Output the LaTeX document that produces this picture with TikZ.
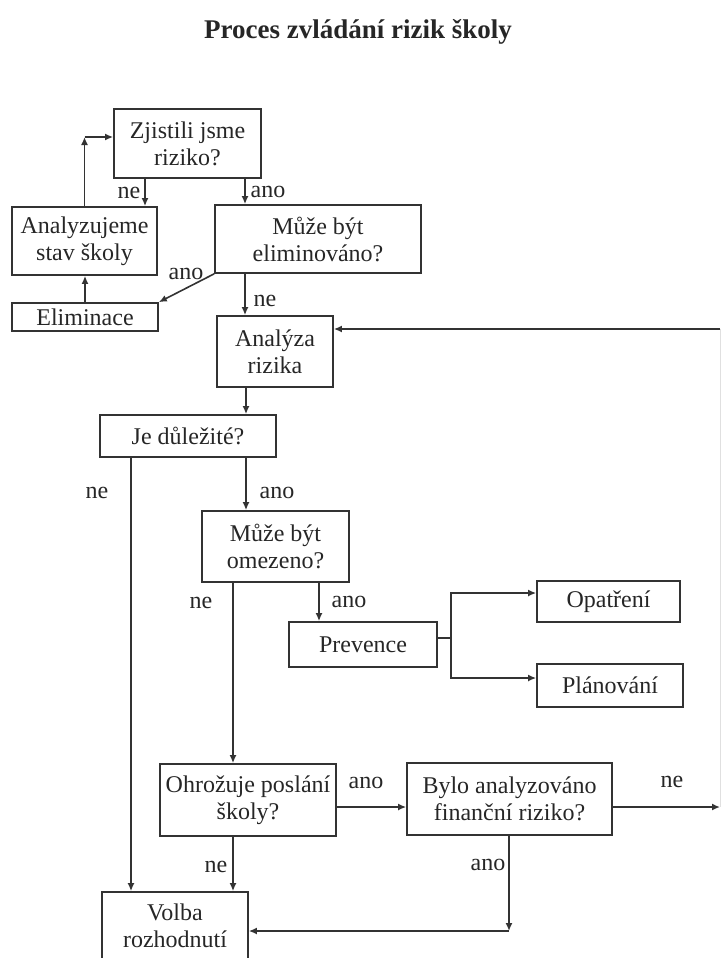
\documentclass[tikz,border=0pt]{standalone}
\usepackage{fontspec}
\setmainfont{Liberation Serif}
\usetikzlibrary{arrows.meta}
\begin{document}
\begin{tikzpicture}[x=1pt,y=-1pt,
  box/.style={draw=black!80, line width=1.7pt, inner sep=0pt, align=center, text=black!85, font=\fontsize{24}{27}\selectfont},
  lbl/.style={inner sep=0pt, text=black!85, font=\fontsize{24}{27}\selectfont},
  conn/.style={draw=black!80, line width=1.6pt},
  arr/.style={conn, -{Latex[length=8pt,width=7pt]}}]
\useasboundingbox (0,0) rectangle (721,958);
\node[inner sep=0pt, font=\bfseries\fontsize{27}{30}\selectfont, text=black!85, anchor=base] (title) at (358,38) {Proces zvládání rizik školy};
% boxes
\node[box, minimum width=147pt, minimum height=69pt] (zj) at (187.5,143.5) {Zjistili jsme\\riziko?};
\node[box, minimum width=145pt, minimum height=68pt] (an) at (84.5,241) {Analyzujeme\\stav školy};
\node[box, minimum width=206pt, minimum height=68pt] (me) at (318,239) {Může být\\eliminováno?};
\node[box, minimum width=146pt, minimum height=28pt] (el) at (85,317) {Eliminace};
\node[box, minimum width=116pt, minimum height=71pt] (ar) at (275,351.5) {Analýza\\rizika};
\node[box, minimum width=176pt, minimum height=42pt] (jd) at (188,436) {Je důležité?};
\node[box, minimum width=147pt, minimum height=71pt] (mo) at (275.5,546.5) {Může být\\omezeno?};
\node[box, minimum width=148pt, minimum height=45pt] (pr) at (363,644.5) {Prevence};
\node[box, minimum width=143pt, minimum height=41pt] (op) at (608.5,601.5) {Opatření};
\node[box, minimum width=146pt, minimum height=43pt] (pl) at (610,685.5) {Plánování};
\node[box, minimum width=176pt, minimum height=72pt] (oh) at (248,800) {Ohrožuje poslání\\školy?};
\node[box, minimum width=205pt, minimum height=72pt] (by) at (509.5,799) {Bylo analyzováno\\finanční riziko?};
\node[box, minimum width=146pt, minimum height=68pt] (vo) at (175,926) {Volba\\rozhodnutí};
% helper coordinates
\coordinate (c1) at (84.5,137);
\coordinate (br) at (451,638);
\coordinate (c2) at (509,931);
\coordinate (rt) at (720,807);
\coordinate (rtop) at (720,329);
% connectors
\draw[arr] (zj.south -| 145,0) -- (an.north -| 145,0);
\node[lbl] (l1) at (129,193) {ne};
\draw[arr] (zj.south -| 245,0) -- (me.north -| 245,0);
\node[lbl] (l2) at (268,192) {ano};
\draw[arr] (an.north) -- (c1);
\draw[arr] (c1) -- (zj.west |- c1);
\draw[arr] (el.north -| 85,0) -- (an.south -| 85,0);
\draw[arr] (me.south west) -- (el.north east);
\node[lbl] (l3) at (186,274) {ano};
\draw[arr] (me.south -| 245,0) -- (ar.north -| 245,0);
\node[lbl] (l4) at (265,301) {ne};
\draw[arr] (ar.south -| 246,0) -- (jd.north -| 246,0);
\draw[arr] (jd.south -| 246,0) -- (mo.north -| 246,0);
\node[lbl] (l5) at (277,493) {ano};
\draw[arr] (jd.south -| 131,0) -- (vo.north -| 131,0);
\node[lbl] (l6) at (97,493) {ne};
\draw[arr] (mo.south -| 233,0) -- (oh.north -| 233,0);
\node[lbl] (l7) at (201,603) {ne};
\draw[arr] (mo.south -| 319,0) -- (pr.north -| 319,0);
\node[lbl] (l8) at (349,602) {ano};
\draw[conn] (pr.east |- br) -- (br);
\draw[arr] (br) |- (op.west |- 0,593);
\draw[arr] (br) |- (pl.west |- 0,678);
\draw[arr] (oh.east |- 0,807) -- (by.west |- 0,807);
\node[lbl] (l9) at (366,783) {ano};
\draw[arr] (oh.south -| 233,0) -- (vo.north -| 233,0);
\node[lbl] (l10) at (216,867) {ne};
\draw[arr] (by.south -| 509,0) -- (c2);
\draw[arr] (c2) -- (vo.east |- c2);
\node[lbl] (l11) at (488,865) {ano};
\draw[arr] (by.east |- rt) -- (rt);
\node[lbl] (l12) at (672,782) {ne};
\draw[draw=black!12, line width=0.8pt] (rt) -- (rtop);
\draw[arr] (rtop) -- (ar.east |- rtop);
\end{tikzpicture}
\end{document}
